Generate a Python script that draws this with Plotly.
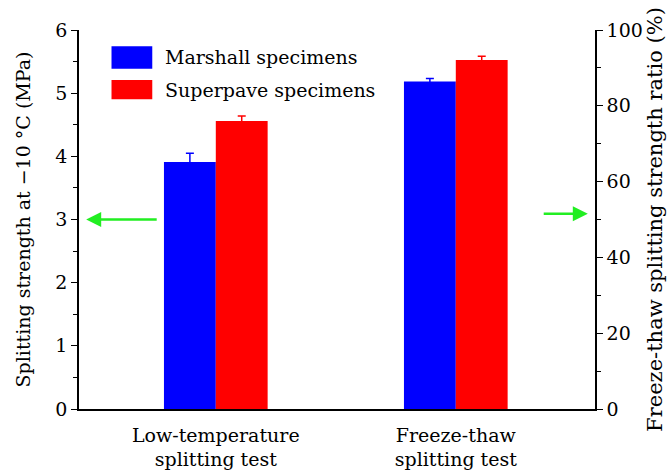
import plotly.graph_objects as go

# Test categories and measured results
categories = ["Low-temperature<br>splitting test", "Freeze-thaw<br>splitting test"]
series_names = ["Marshall specimens", "Superpave specimens"]
series_colors = ["#0000ff", "#ff0000"]

# Low-temperature splitting strength at -10 °C (MPa), left axis
lowtemp_strength = [3.91, 4.56]
lowtemp_error = [0.14, 0.08]

# Freeze-thaw splitting strength ratio (%), right axis
freeze_thaw_ratio = [86.4, 92.1]
freeze_thaw_error = [0.8, 1.0]

FONT = "DejaVu Serif"
FS = 19
bar_w = 0.216
offsets = [-bar_w / 2, bar_w / 2]

fig = go.Figure()
for i, name in enumerate(series_names):
    fig.add_trace(go.Bar(
        x=[0 + offsets[i]], y=[lowtemp_strength[i]], width=bar_w,
        name=name, marker=dict(color=series_colors[i], line=dict(width=0)),
        error_y=dict(type="data", array=[lowtemp_error[i]], color=series_colors[i],
                     thickness=1.5, width=4),
        yaxis="y", showlegend=False,
    ))
    fig.add_trace(go.Bar(
        x=[1 + offsets[i]], y=[freeze_thaw_ratio[i]], width=bar_w,
        name=name, marker=dict(color=series_colors[i], line=dict(width=0)),
        error_y=dict(type="data", array=[freeze_thaw_error[i]], color=series_colors[i],
                     thickness=1.5, width=4),
        yaxis="y2", showlegend=False,
    ))

axis_common = dict(showline=True, linecolor="black", linewidth=1.5, tickcolor="black",
                   showgrid=False, zeroline=False, automargin=False)

fig.update_layout(
    width=667, height=475,
    margin=dict(l=79, r=72, t=30, b=66),
    paper_bgcolor="white", plot_bgcolor="white",
    barmode="overlay",
    font=dict(family=FONT, size=FS, color="black"),
    xaxis=dict(range=[-0.57, 1.58], tickvals=[0, 1], ticktext=categories, ticks="",
               ticklabelstandoff=8, tickfont=dict(size=FS), **axis_common),
    yaxis=dict(range=[0, 6], dtick=1, ticks="outside", ticklen=6, tickwidth=1.2,
               minor=dict(dtick=0.5, ticks="outside", ticklen=4, tickwidth=1.2,
                          tickcolor="black"),
               title=dict(text="Splitting strength at \u221210 \u00b0C (MPa)", standoff=20,
                          font=dict(size=FS)),
               **axis_common),
    yaxis2=dict(range=[0, 100], dtick=20, overlaying="y", side="right", anchor="x",
                ticks="outside", ticklen=6, tickwidth=1.2,
                minor=dict(dtick=10, ticks="outside", ticklen=4, tickwidth=1.2,
                           tickcolor="black"),
                title=dict(text="Freeze-thaw splitting strength ratio (%)", standoff=11,
                           font=dict(size=21)),
                **axis_common),
)

# Legend drawn as swatches with labels
legend_rows = [(0.957, 0.898), (0.868, 0.817)]
for (top, bottom), name, color in zip(legend_rows, series_names, series_colors):
    fig.add_shape(type="rect", xref="paper", yref="paper",
                  x0=0.063, x1=0.142, y0=bottom, y1=top,
                  fillcolor=color, line=dict(width=0))
    fig.add_annotation(xref="paper", yref="paper", x=0.162, y=(top + bottom) / 2,
                       text=name, showarrow=False, xanchor="left", yanchor="middle",
                       font=dict(size=FS))

# Arrows indicating which axis each group belongs to
arrow_color = "#22ee22"
fig.add_annotation(x=-0.54, y=3.0, ax=-0.24, ay=3.0, xref="x", yref="y",
                   axref="x", ayref="y", text="", showarrow=True,
                   arrowhead=2, arrowsize=1.2, arrowwidth=2.5, arrowcolor=arrow_color)
fig.add_annotation(x=1.55, y=51.5, ax=1.36, ay=51.5, xref="x", yref="y2",
                   axref="x", ayref="y2", text="", showarrow=True,
                   arrowhead=2, arrowsize=1.2, arrowwidth=2.5, arrowcolor=arrow_color)

fig.write_html("out.html")
